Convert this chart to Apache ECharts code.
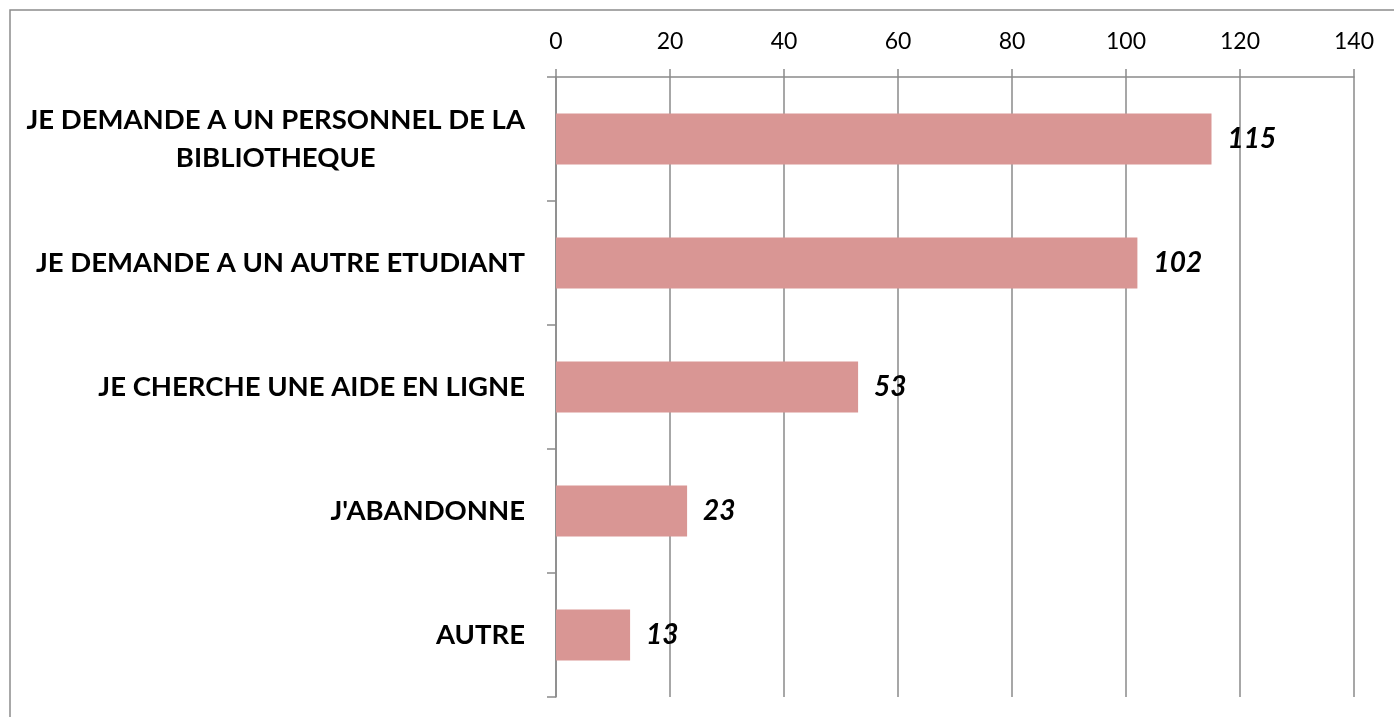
<!DOCTYPE html>
<html>
<head>
<meta charset="utf-8">
<script src="https://cdn.jsdelivr.net/npm/echarts@6/dist/echarts.min.js"></script>
<style>
html,body{margin:0;padding:0;background:#fff;}
#chart{width:1394px;height:717px;}
</style>
</head>
<body>
<div id="chart"></div>
<script>
const categories = [
  "JE DEMANDE A UN PERSONNEL DE LA\nBIBLIOTHEQUE",
  "JE DEMANDE A UN AUTRE ETUDIANT",
  "JE CHERCHE UNE AIDE EN LIGNE",
  "J'ABANDONNE",
  "AUTRE"
];
const values = [115, 102, 53, 23, 13];
const axisMin = 0, axisMax = 140, axisStep = 20;

const chart = echarts.init(document.getElementById('chart'), null, {renderer: 'canvas'});
const font = 'Lato';
const catStyle = {fontFamily: font, fontSize: 27.5, fontWeight: 'bold', color: '#000', align: 'center', lineHeight: 38};

chart.setOption({
  animation: false,
  backgroundColor: '#fff',
  graphic: [{
    type: 'rect',
    shape: {x: 10, y: 10, width: 1420, height: 760},
    style: {fill: 'none', stroke: '#8c8c8c', lineWidth: 1.5},
    silent: true
  }],
  grid: {left: 556, right: 40, top: 77, bottom: 20, containLabel: false},
  xAxis: {
    type: 'value',
    position: 'top',
    min: axisMin, max: axisMax, interval: axisStep,
    axisLine: {show: true, lineStyle: {color: '#8a8a8a', width: 1.5}},
    axisTick: {show: true, length: 8, lineStyle: {color: '#8a8a8a', width: 1.5}},
    splitLine: {show: true, lineStyle: {color: '#8a8a8a', width: 1.5}},
    axisLabel: {fontFamily: font, fontSize: 23, color: '#000', margin: 24}
  },
  yAxis: {
    type: 'category',
    inverse: true,
    data: categories,
    axisLine: {show: true, lineStyle: {color: '#8a8a8a', width: 1.5}},
    axisTick: {show: true, length: 9, lineStyle: {color: '#8a8a8a', width: 1.5}},
    splitLine: {show: false},
    axisLabel: {
      margin: 31,
      fontFamily: font, fontSize: 27.5, fontWeight: 'bold', color: '#000',
      lineHeight: 38,
      formatter: function (v) {
        return v.split('\n').map(function (s) { return '{c|' + s + '}'; }).join('\n');
      },
      rich: {c: catStyle}
    }
  },
  series: [{
    type: 'bar',
    data: values,
    barWidth: '41%',
    itemStyle: {color: '#d99694'},
    label: {
      show: true,
      position: 'right',
      distance: 16,
      fontFamily: font, fontSize: 28, fontWeight: 'bold', fontStyle: 'italic', color: '#000'
    }
  }]
});
</script>
</body>
</html>
